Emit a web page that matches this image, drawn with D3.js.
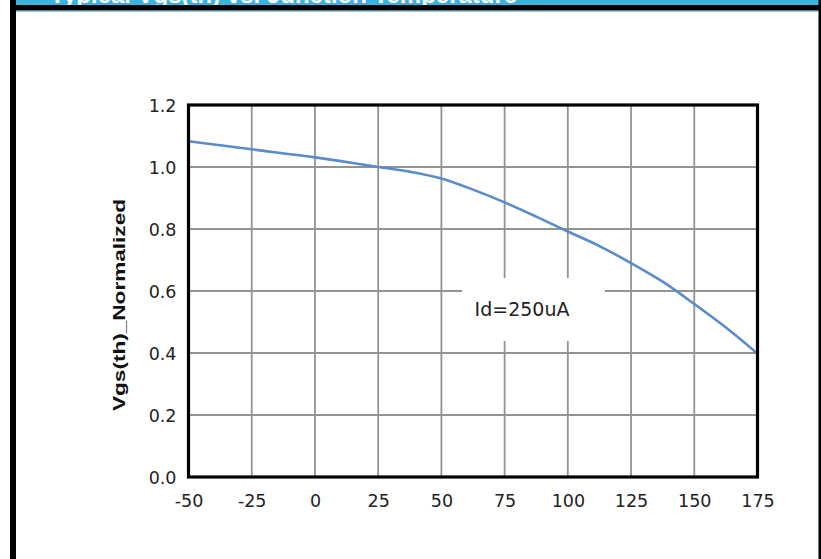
<!DOCTYPE html>
<html>
<head>
<meta charset="utf-8">
<script src="https://cdn.jsdelivr.net/npm/d3@7"></script>
<style>
  html, body { margin: 0; padding: 0; background: #fff; }
  svg { display: block; }
</style>
</head>
<body>
<svg id="chart" width="821" height="559"></svg>
<script>
// Junction temperature (°C) and normalized gate threshold voltage
const temps = [-50, -25, 0, 25, 37.5, 50, 62.5, 75, 87.5, 100, 112.5, 125, 137.5, 150, 162.5, 175];
const vgsNorm = [1.083, 1.057, 1.031, 1.000, 0.985, 0.963, 0.927, 0.886, 0.840, 0.792, 0.745, 0.690, 0.630, 0.558, 0.482, 0.398];

const xTicks = [-50, -25, 0, 25, 50, 75, 100, 125, 150, 175];
const yTicks = [0.0, 0.2, 0.4, 0.6, 0.8, 1.0, 1.2];

const titleText = "Typical Vgs(th) vs. Junction Temperature";
const yTitle = "Vgs(th)_Normalized";
const noteText = "Id=250uA";

const W = 821, H = 559;
const svg = d3.select("#chart");

// Page frame: header strip and side borders
svg.append("rect").attr("x", 16).attr("y", 0).attr("width", 803).attr("height", 5).attr("fill", "#3bb3dc");
svg.append("text")
  .attr("x", 50).attr("y", 3)
  .attr("fill", "#fff")
  .attr("font-family", "Liberation Sans, Arial, sans-serif")
  .attr("font-weight", "bold")
  .attr("font-size", 24)
  .text(titleText);
svg.append("rect").attr("x", 16).attr("y", 5).attr("width", 803).attr("height", 5.5).attr("fill", "#000");
svg.append("rect").attr("x", 16).attr("y", 10.5).attr("width", 803).attr("height", 1).attr("fill", "#3a8ea6");
svg.append("rect").attr("x", 10).attr("y", 0).attr("width", 6).attr("height", H).attr("fill", "#000");
svg.append("rect").attr("x", 818.5).attr("y", 0).attr("width", 3).attr("height", H).attr("fill", "#000");

// Plot area
const plotL = 188.5, plotR = 757.5, plotT = 105, plotB = 477;

const x = d3.scaleLinear().domain([-50, 175]).range([plotL, plotR]);
const y = d3.scaleLinear().domain([0, 1.2]).range([plotB, plotT]);

const g = svg.append("g");

// Grid
g.append("g")
  .selectAll("line")
  .data(xTicks.slice(1, -1))
  .join("line")
  .attr("x1", d => x(d)).attr("x2", d => x(d))
  .attr("y1", plotT).attr("y2", plotB)
  .attr("stroke", "#939393").attr("stroke-width", 1.8);

g.append("g")
  .selectAll("line")
  .data(yTicks.slice(1, -1))
  .join("line")
  .attr("x1", plotL).attr("x2", plotR)
  .attr("y1", d => y(d)).attr("y2", d => y(d))
  .attr("stroke", "#939393").attr("stroke-width", 1.8);

// Box behind the test-condition note
g.append("rect")
  .attr("x", 462).attr("y", 278).attr("width", 143).attr("height", 63)
  .attr("fill", "#fff");

g.append("text")
  .attr("x", 522).attr("y", 316)
  .attr("text-anchor", "middle")
  .attr("font-family", "DejaVu Sans, Verdana, sans-serif")
  .attr("font-size", 19)
  .attr("fill", "#222")
  .text(noteText);

// Curve
const line = d3.line()
  .x((d, i) => x(temps[i]))
  .y(d => y(d))
  .curve(d3.curveMonotoneX);

g.append("path")
  .datum(vgsNorm)
  .attr("d", line)
  .attr("fill", "none")
  .attr("stroke", "#5b8bc8")
  .attr("stroke-width", 2.6)
  .attr("stroke-linejoin", "round");

// Plot frame
g.append("rect")
  .attr("x", plotL).attr("y", plotT)
  .attr("width", plotR - plotL).attr("height", plotB - plotT)
  .attr("fill", "none").attr("stroke", "#000").attr("stroke-width", 3.2);

// Axes (labels only; frame drawn above)
const xAxis = d3.axisBottom(x).tickValues(xTicks).tickSize(0).tickPadding(0)
  .tickFormat(d => String(d));
const xg = g.append("g").attr("transform", `translate(0,${plotB})`).call(xAxis);
xg.select(".domain").remove();
xg.selectAll("text")
  .attr("y", 30).attr("dy", 0)
  .attr("font-family", "DejaVu Sans, Verdana, sans-serif")
  .attr("font-size", 17.5)
  .attr("fill", "#222");

const yAxis = d3.axisLeft(y).tickValues(yTicks).tickSize(0).tickPadding(0)
  .tickFormat(d3.format(".1f"));
const yg = g.append("g").attr("transform", `translate(${plotL},0)`).call(yAxis);
yg.select(".domain").remove();
yg.selectAll("text")
  .attr("x", -12).attr("dy", "0.36em")
  .attr("font-family", "DejaVu Sans, Verdana, sans-serif")
  .attr("font-size", 17.5)
  .attr("fill", "#222");

// Y axis title
svg.append("text")
  .attr("transform", `translate(125,305) rotate(-90)`)
  .attr("text-anchor", "middle")
  .attr("font-family", "Liberation Sans, Arial, sans-serif")
  .attr("font-weight", "bold")
  .attr("font-size", 16)
  .attr("textLength", 212)
  .attr("lengthAdjust", "spacingAndGlyphs")
  .attr("fill", "#111")
  .text(yTitle);
</script>
</body>
</html>
